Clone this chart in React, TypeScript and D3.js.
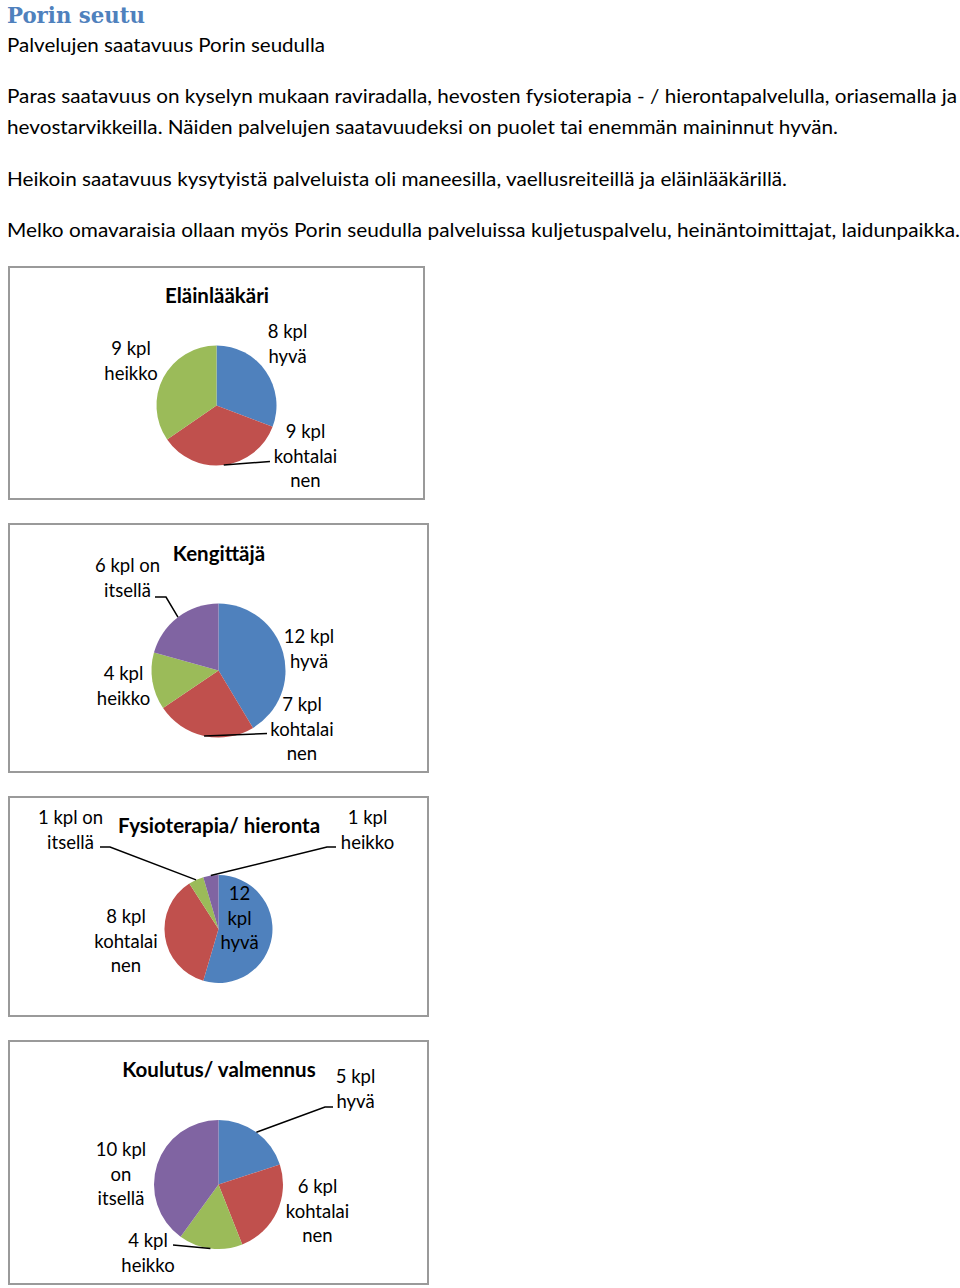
import React from "react";
import * as d3 from "d3";

// ---------- data ----------
const pageTitle = "Porin seutu";
const subTitle = "Palvelujen saatavuus Porin seudulla";
const paragraphLines = [
  "Paras saatavuus on kyselyn mukaan raviradalla, hevosten fysioterapia - / hierontapalvelulla, oriasemalla ja",
  "hevostarvikkeilla. Näiden palvelujen saatavuudeksi on puolet tai enemmän maininnut hyvän.",
  "Heikoin saatavuus kysytyistä palveluista oli maneesilla, vaellusreiteillä ja eläinlääkärillä.",
  "Melko omavaraisia ollaan myös Porin seudulla palveluissa kuljetuspalvelu, heinäntoimittajat, laidunpaikka.",
];

const chartTitles = ["Eläinlääkäri", "Kengittäjä", "Fysioterapia/ hieronta", "Koulutus/ valmennus"];

// slice categories in drawing order (clockwise from 12 o'clock)
const categories1 = ["hyvä", "kohtalainen", "heikko"];
const values1 = [8, 9, 9];
const categories2 = ["hyvä", "kohtalainen", "heikko", "on itsellä"];
const values2 = [12, 7, 4, 6];
const categories3 = ["hyvä", "kohtalainen", "on itsellä", "heikko"];
const values3 = [12, 8, 1, 1];
const categories4 = ["hyvä", "kohtalainen", "heikko", "on itsellä"];
const values4 = [5, 6, 4, 10];

const sliceColors = ["#4f81bd", "#c0504d", "#9bbb59", "#8064a2"];

// label text lines per slice
const labels1 = [["8 kpl", "hyvä"], ["9 kpl", "kohtalai", "nen"], ["9 kpl", "heikko"]];
const labels2 = [["12 kpl", "hyvä"], ["7 kpl", "kohtalai", "nen"], ["4 kpl", "heikko"], ["6 kpl on", "itsellä"]];
const labels3 = [["12", "kpl", "hyvä"], ["8 kpl", "kohtalai", "nen"], ["1 kpl on", "itsellä"], ["1 kpl", "heikko"]];
const labels4 = [["5 kpl", "hyvä"], ["6 kpl", "kohtalai", "nen"], ["4 kpl", "heikko"], ["10 kpl", "on", "itsellä"]];

// ---------- layout ----------
type Layout = {
  box: [number, number, number, number];
  cx: number;
  cy: number;
  r: number;
  titleY: number;
  labelPos: [number, number][]; // center x, first line center y
  leaders: (null | [number, number][])[]; // label-side points (leader goes to slice edge)
};

const layouts: Layout[] = [
  {
    box: [9, 267, 424, 499],
    cx: 216.5, cy: 405.5, r: 60,
    titleY: 295,
    labelPos: [[287.5, 331], [305.5, 431], [131, 348]],
    leaders: [null, [[270, 461.5]], null],
  },
  {
    box: [9, 524, 428, 772],
    cx: 218.5, cy: 670.5, r: 67,
    titleY: 553,
    labelPos: [[309, 636], [302, 704], [123.5, 673], [127.5, 565]],
    leaders: [null, [[267, 733.5]], null, [[155, 597], [166, 597]]],
  },
  {
    box: [9, 797, 428, 1016],
    cx: 218.5, cy: 929, r: 54,
    titleY: 825,
    labelPos: [[239.5, 893], [126, 916], [70.5, 817], [367.5, 817]],
    leaders: [null, null, [[100, 847], [110, 847]], [[336, 847], [327, 847]]],
  },
  {
    box: [9, 1041, 428, 1284],
    cx: 218.5, cy: 1184.5, r: 64.5,
    titleY: 1069,
    labelPos: [[355.5, 1076], [317.5, 1186], [148, 1240], [121, 1149]],
    leaders: [[[333, 1107], [325, 1107]], null, [[173, 1245]], null],
  },
];

const chartData = [
  { cats: categories1, vals: values1, labels: labels1 },
  { cats: categories2, vals: values2, labels: labels2 },
  { cats: categories3, vals: values3, labels: labels3 },
  { cats: categories4, vals: values4, labels: labels4 },
];

const colorFor = (i: number) => sliceColors[i % sliceColors.length];

const FONT = "Lato, 'Open Sans', sans-serif";
const LINE_H = 24.5;

function PieChart({ idx }: { idx: number }) {
  const L = layouts[idx];
  const D = chartData[idx];
  const pie = d3.pie<number>().sort(null).value((d) => d);
  const arcs = pie(D.vals);
  const arcGen = d3.arc<d3.PieArcDatum<number>>().innerRadius(0).outerRadius(L.r);
  const [x0, y0, x1, y1] = L.box;
  return (
    <g>
      <rect x={x0} y={y0} width={x1 - x0} height={y1 - y0} fill="#fff" stroke="#9a9a9a" strokeWidth={2} />
      <text
        x={(x0 + x1) / 2 + 0.5}
        y={L.titleY}
        textAnchor="middle"
        dominantBaseline="central"
        fontFamily={FONT}
        fontWeight={700}
        fontSize={20.5}
        fill="#000"
      >
        {chartTitles[idx]}
      </text>
      <g transform={`translate(${L.cx},${L.cy})`}>
        {arcs.map((a, i) => (
          <path key={i} d={arcGen(a) || ""} fill={colorFor(i)} />
        ))}
      </g>
      {arcs.map((a, i) => {
        const pts = L.leaders[i];
        if (!pts) return null;
        const mid = (a.startAngle + a.endAngle) / 2;
        const edge: [number, number] = [L.cx + L.r * Math.sin(mid), L.cy - L.r * Math.cos(mid)];
        const line = d3.line()([...pts, edge]);
        return <path key={"l" + i} d={line || ""} fill="none" stroke="#000" strokeWidth={1.5} />;
      })}
      {D.labels.map((lines, i) => (
        <text
          key={"t" + i}
          textAnchor="middle"
          fontFamily={FONT}
          fontSize={18.5}
          fill="#000"
          dominantBaseline="central"
        >
          {lines.map((ln, j) => (
            <tspan key={j} x={L.labelPos[i][0]} y={L.labelPos[i][1] + j * LINE_H}>
              {ln}
            </tspan>
          ))}
        </text>
      ))}
    </g>
  );
}

const paraY = [96, 127, 179, 230];
const paraW = [950, 831, 780, 953];

export default function App() {
  return (
    <svg
      width={960}
      height={1288}
      style={{ position: "absolute", left: 0, top: 0, background: "#fff" }}
      xmlns="http://www.w3.org/2000/svg"
    >
      <rect x={0} y={0} width={960} height={1288} fill="#fff" />
      <text
        x={7}
        y={22.5}
        fontFamily="'DejaVu Serif', 'Liberation Serif', serif"
        fontWeight={700}
        fontSize={22.5}
        fill="#4f81bd"
        textLength={138}
        lengthAdjust="spacingAndGlyphs"
      >
        {pageTitle}
      </text>
      <text
        x={7}
        y={45}
        dominantBaseline="central"
        fontFamily={FONT}
        fontSize={18.5}
        fill="#000"
        textLength={318}
        lengthAdjust="spacingAndGlyphs"
      >
        {subTitle}
      </text>
      {paragraphLines.map((ln, i) => (
        <text
          key={i}
          x={7}
          y={paraY[i]}
          dominantBaseline="central"
          fontFamily={FONT}
          fontSize={18.5}
          fill="#000"
          textLength={paraW[i]}
          lengthAdjust="spacingAndGlyphs"
        >
          {ln}
        </text>
      ))}
      {layouts.map((_, i) => (
        <PieChart key={i} idx={i} />
      ))}
    </svg>
  );
}
